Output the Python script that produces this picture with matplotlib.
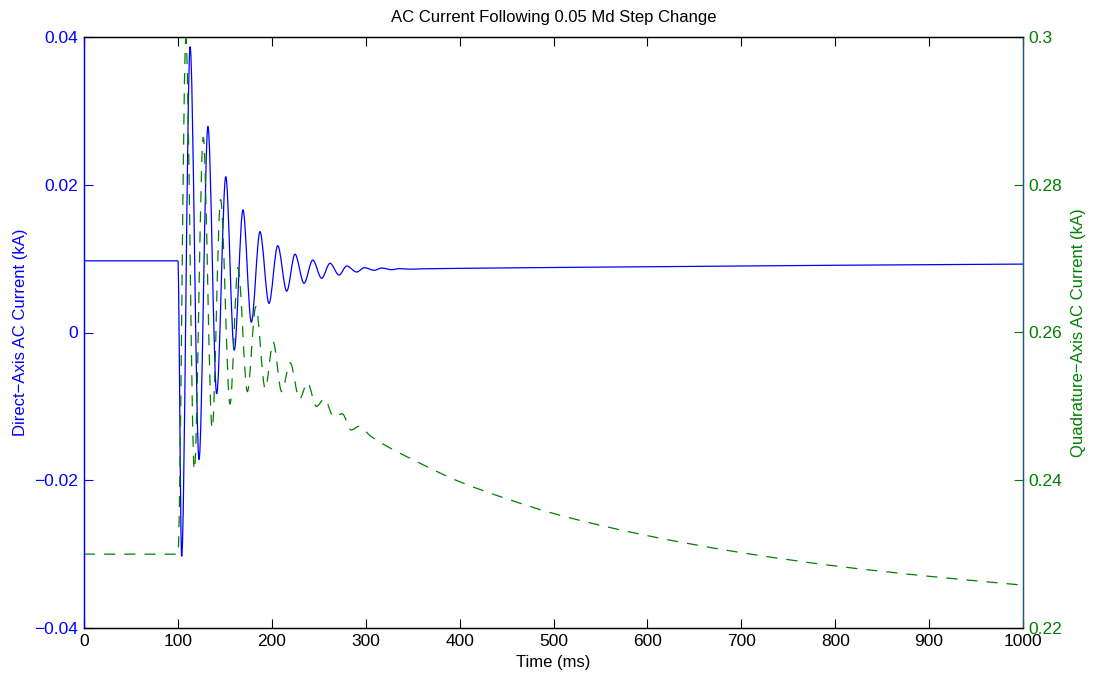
import numpy as np
import matplotlib
matplotlib.use("Agg")
import matplotlib.pyplot as plt
from matplotlib.path import Path
from matplotlib.patches import PathPatch

plt.rcParams["font.family"] = ["Liberation Sans", "DejaVu Sans"]
plt.rcParams["lines.scale_dashes"] = False

# Direct-axis AC current (kA): pre-step level, then turning points of the ringing
t_d = [0, 100, 104, 113, 122.5, 132, 141.3, 151, 160, 169.3, 178.2, 187.4,
       197, 206.3, 215.9, 224.7, 234.3, 243.6, 253.1, 262, 271.6, 279.8,
       290.4, 298.5, 309.2, 317, 327.7, 336, 346, 360, 400, 500, 600, 700,
       800, 900, 1000]
i_d = [0.0097, 0.0097, -0.0303, 0.0387, -0.0172, 0.0279, -0.0083, 0.0211,
       -0.0024, 0.0166, 0.0014, 0.01365, 0.00395, 0.01175, 0.0056, 0.0106,
       0.00666, 0.0098, 0.00734, 0.00937, 0.00778, 0.0090, 0.00819, 0.00877,
       0.00842, 0.00873, 0.0085, 0.00866, 0.00857, 0.00862, 0.00868, 0.0088,
       0.0089, 0.0090, 0.0091, 0.00918, 0.00926]

# Quadrature-axis AC current (kA)
t_q = [0, 100, 108.5, 117.5, 127, 136.5, 145.5, 155.5, 164, 174, 183, 193,
       201.5, 210.5, 219.5, 229.5, 238, 247.5, 256, 266, 275, 284.5, 293,
       305, 324, 350, 400, 450, 500, 600, 700, 800, 900, 1000]
i_q = [0.2300, 0.2300, 0.2998, 0.2414, 0.2864, 0.2470, 0.2780, 0.2503,
       0.2688, 0.2520, 0.2635, 0.2524, 0.2587, 0.2520, 0.2559, 0.2510,
       0.2532, 0.2500, 0.2510, 0.2486, 0.2490, 0.2468, 0.2473, 0.2460,
       0.2445, 0.2428, 0.2398, 0.2375, 0.2355, 0.2325, 0.2302, 0.2284,
       0.2270, 0.2258]

x_ticks = [0, 100, 200, 300, 400, 500, 600, 700, 800, 900, 1000]
d_ticks = [-0.04, -0.02, 0, 0.02, 0.04]
d_labels = ["\u22120.04", "\u22120.02", "0", "0.02", "0.04"]
q_ticks = [0.22, 0.24, 0.26, 0.28, 0.30]
q_labels = ["0.22", "0.24", "0.26", "0.28", "0.3"]

BLUE = "#0000ff"
GREEN = "#008000"


def smooth_path(x, y):
    """Monotone cubic through the given points, expressed as Bezier segments."""
    x = np.asarray(x, float)
    y = np.asarray(y, float)
    h = np.diff(x)
    d = np.diff(y) / h
    m = np.zeros_like(y)
    m[0], m[-1] = d[0], d[-1]
    for k in range(1, len(x) - 1):
        if d[k - 1] * d[k] > 0:
            w1 = 2 * h[k] + h[k - 1]
            w2 = h[k] + 2 * h[k - 1]
            m[k] = (w1 + w2) / (w1 / d[k - 1] + w2 / d[k])
    verts = [(x[0], y[0])]
    codes = [Path.MOVETO]
    for k in range(len(x) - 1):
        s = h[k] / 3.0
        verts += [(x[k] + s, y[k] + m[k] * s),
                  (x[k + 1] - s, y[k + 1] - m[k + 1] * s),
                  (x[k + 1], y[k + 1])]
        codes += [Path.CURVE4] * 3
    return Path(verts, codes)


fig = plt.figure(figsize=(10.93, 6.77), dpi=100)
ax1 = fig.add_axes([84 / 1093, 1 - 628 / 677, 939 / 1093, 591 / 677])
ax2 = ax1.twinx()

ax1.add_patch(PathPatch(smooth_path(t_d, i_d), fill=False, edgecolor=BLUE,
                        linewidth=0.9, transform=ax1.transData))
ax2.add_patch(PathPatch(smooth_path(t_q, i_q), fill=False, edgecolor=GREEN,
                        linewidth=0.9, linestyle=(0, (8.0, 6.5)),
                        transform=ax2.transData))

ax1.set_xlim(0, 1000)
ax1.set_ylim(-0.04, 0.04)
ax2.set_ylim(0.22, 0.30)

tick_kw = dict(direction="in", length=6.5, width=0.8, labelsize=12.5, pad=4)
ax1.set_xticks(x_ticks)
ax1.set_xticklabels([str(v) for v in x_ticks])
ax1.tick_params(axis="x", top=True, bottom=True, colors="black", **tick_kw)
ax1.set_yticks(d_ticks)
ax1.set_yticklabels(d_labels)
ax1.tick_params(axis="y", left=True, right=False, colors=BLUE, **tick_kw)
ax2.set_yticks(q_ticks)
ax2.set_yticklabels(q_labels)
ax2.tick_params(axis="y", left=False, right=True, colors=GREEN, **tick_kw)

for ax in (ax1, ax2):
    for sp in ax.spines.values():
        sp.set_linewidth(0.9)
    ax.spines["top"].set_color("black")
    ax.spines["bottom"].set_color("black")
    ax.spines["left"].set_color(BLUE)
    ax.spines["right"].set_color("#1f5a78")

ax1.set_xlabel("Time (ms)", fontsize=12, labelpad=5)
ax1.set_ylabel("Direct\u2212Axis AC Current (kA)", fontsize=12, color=BLUE,
               labelpad=5)
ax2.set_ylabel("Quadrature\u2212Axis AC Current (kA)", fontsize=12,
               color=GREEN, labelpad=6)
ax1.set_title("AC Current Following 0.05 Md Step Change", fontsize=12, pad=11)

fig.savefig("out.png", dpi=100)
